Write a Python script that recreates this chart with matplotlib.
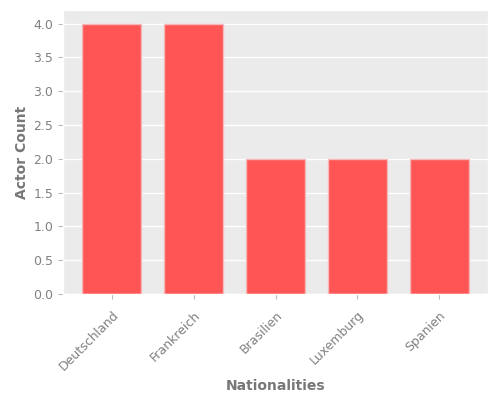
import matplotlib
matplotlib.use('Agg')
import matplotlib.pyplot as plt

plt.style.use('ggplot')

nationalities = ['Deutschland', 'Frankreich', 'Brasilien', 'Luxemburg', 'Spanien']
actor_counts = [4, 4, 2, 2, 2]

fig, ax = plt.subplots(figsize=(5, 4), dpi=100)
ax.set_facecolor('#ebebeb')
ax.bar(nationalities, actor_counts, width=0.72, color='#ff5555', edgecolor='#f7b8b8', linewidth=1)
ax.grid(axis='x', visible=False)
ax.grid(axis='y', color='white', linewidth=1)
ax.tick_params(axis='both', labelsize=9, labelcolor='#808080', color='#bbbbbb')
ax.tick_params(axis='x', pad=7)
ax.set_xlabel('Nationalities', fontweight='bold', color='#777777', fontsize=10, labelpad=4)
ax.set_ylabel('Actor Count', fontweight='bold', color='#777777', fontsize=10, labelpad=3)
plt.xticks(rotation=45, ha='right', rotation_mode='anchor')
plt.subplots_adjust(left=0.126, right=0.976, top=0.975, bottom=0.265)
plt.savefig('out.png')
